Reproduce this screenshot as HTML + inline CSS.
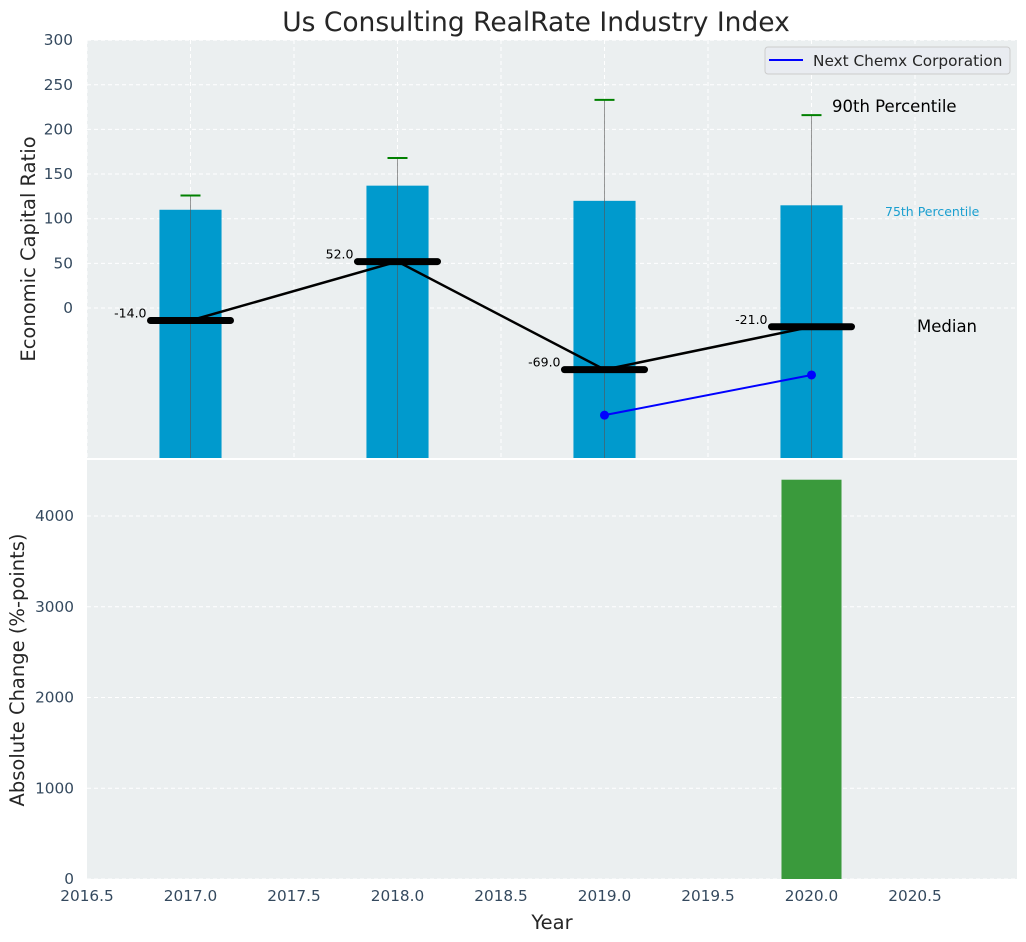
<!DOCTYPE html>
<html><head><meta charset="utf-8"><style>
body{margin:0;background:#fff;}
svg{display:block;font-family:"DejaVu Sans","Liberation Sans",sans-serif;}
</style></head><body>
<svg id="chart" width="1026" height="942" xmlns="http://www.w3.org/2000/svg">
<text x="536" y="31" text-anchor="middle" font-size="26.5" fill="#262626">Us Consulting RealRate Industry Index</text>
<g id="topg"></g><g id="botg"></g>
</svg>
<script>
const years=[2017,2018,2019,2020];
const p75=[110,137,120,115];
const p90=[126,168,233,216];
const medians=[-14,52,-69,-21];
const compYears=[2019,2020];
const compValues=[-120,-75];
const changeYears=[2020];
const changeValues=[4400];
const topTicks=[0,50,100,150,200,250,300];
const botTicks=[0,1000,2000,3000,4000];
const xTicks=[2016.5,2017,2017.5,2018,2018.5,2019,2019.5,2020,2020.5];

const NS="http://www.w3.org/2000/svg";
const L=87,R=1017;
const X=v=>L+(v-2016.5)*207;
const T0=40,T1=458,B0=460,B1=879;
const yT=v=>308-v*0.893;
const yB=v=>879-v*0.09075;
function mk(p,t,a){const e=document.createElementNS(NS,t);for(const k in a)e.setAttribute(k,a[k]);p.appendChild(e);return e;}
const svg=document.getElementById('chart');
const topG=document.getElementById('topg'),botG=document.getElementById('botg');

let bg=mk(topG,'rect',{x:L,y:T0,width:R-L,height:T1-T0,fill:'#ebeff0'});


bg=mk(botG,'rect',{x:L,y:B0,width:R-L,height:B1-B0,fill:'#ebeff0'});



xTicks.forEach(v=>{
 [[T0,T1],[B0,B1]].forEach(r=>{let g=mk(topG,'line',{x1:X(v),x2:X(v),y1:r[0],y2:r[1],stroke:'#fff','stroke-dasharray':'4,3','stroke-width':1});
 
 });
 let t=mk(svg,'text',{x:X(v),y:901,'text-anchor':'middle','font-size':15.3,fill:'#34495e'});t.textContent=v.toFixed(1);
 
 
});
topTicks.forEach(v=>{
 let g=mk(topG,'line',{x1:L,x2:R,y1:yT(v),y2:yT(v),stroke:'#fff','stroke-dasharray':'4,3'});
 
 
 let t=mk(topG,'text',{x:73,y:yT(v)+5,'text-anchor':'end','font-size':15.3,fill:'#34495e'});t.textContent=v;
 
 
});
botTicks.forEach(v=>{
 let g=mk(botG,'line',{x1:L,x2:R,y1:yB(v),y2:yB(v),stroke:'#fff','stroke-dasharray':'4,3'});
 
 
 let t=mk(botG,'text',{x:74,y:yB(v)+5,'text-anchor':'end','font-size':15.3,fill:'#34495e'});t.textContent=v;
 
 
});

years.forEach((yr,i)=>{
 let b=mk(topG,'rect',{x:X(yr-0.15),y:yT(p75[i]),width:0.3*207,height:T1-yT(p75[i]),fill:'#009ACD'});
 
 
 let l=mk(topG,'line',{x1:X(yr),x2:X(yr),y1:T1,y2:yT(p90[i]),stroke:'#555','stroke-opacity':0.6,'stroke-width':1});
 
 
 let c=mk(topG,'line',{x1:X(yr)-10,x2:X(yr)+10,y1:yT(p90[i]),y2:yT(p90[i]),stroke:'green','stroke-width':2});
 
 
});
let pts=years.map((yr,i)=>X(yr)+','+yT(medians[i])).join(' ');
let ml=mk(topG,'polyline',{points:pts,fill:'none',stroke:'#000','stroke-width':2.5});


years.forEach((yr,i)=>{
 let m=mk(topG,'line',{x1:X(yr)-40,x2:X(yr)+40,y1:yT(medians[i]),y2:yT(medians[i]),stroke:'#000','stroke-width':7,'stroke-linecap':'round'});
 
 
 let t=mk(topG,'text',{x:X(yr)-44,y:yT(medians[i])-3,'text-anchor':'end','font-size':12.5,fill:'#000'});t.textContent=medians[i].toFixed(1);
 
 
});
let cl=mk(topG,'polyline',{points:compYears.map((yr,i)=>X(yr)+','+yT(compValues[i])).join(' '),fill:'none',stroke:'blue','stroke-width':2});


compYears.forEach((yr,i)=>{let d=mk(topG,'circle',{cx:X(yr),cy:yT(compValues[i]),r:4.5,fill:'blue'});
 
 });
[['90th Percentile',832,112,16.5,'#000'],['75th Percentile',885,216,12.5,'#1a9fd0'],['Median',917,332,16.5,'#000']].forEach(a=>{
 let t=mk(topG,'text',{x:a[1],y:a[2],'font-size':a[3],fill:a[4]});t.textContent=a[0];
 
 
});
let lg=mk(topG,'g',{});


mk(lg,'rect',{x:765,y:47,width:245,height:27,rx:3,fill:'#e9ecf1',stroke:'#ccc'});
mk(lg,'line',{x1:769,x2:803,y1:60,y2:60,stroke:'blue','stroke-width':2});
let lt=mk(lg,'text',{x:813,y:66,'font-size':15.3,fill:'#262626'});lt.textContent='Next Chemx Corporation';
changeYears.forEach((yr,i)=>{
 let b=mk(botG,'rect',{x:X(yr-0.145),y:yB(changeValues[i]),width:0.29*207,height:B1-yB(changeValues[i]),fill:'#3a9a3c'});
 
 
});
[['Economic Capital Ratio',35,249],['Absolute Change (%-points)',24,670]].forEach(a=>{
 let t=mk(svg,'text',{x:a[1],y:a[2],'text-anchor':'middle','font-size':19.5,fill:'#262626',transform:`rotate(-90 ${a[1]} ${a[2]})`});t.textContent=a[0];
 
 
});
let xt=mk(svg,'text',{x:552,y:929,'text-anchor':'middle','font-size':19.5,fill:'#262626'});xt.textContent='Year';


</script>
</body></html>
